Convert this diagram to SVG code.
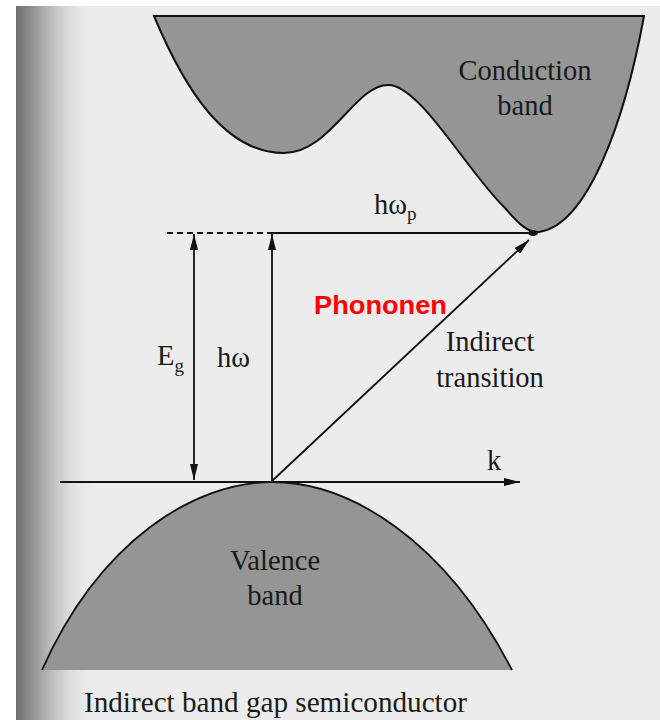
<svg xmlns="http://www.w3.org/2000/svg" width="660" height="720" viewBox="0 0 660 720">
  <style>
    .lbl { font-family: "Liberation Serif", "Times New Roman", serif; fill: #1a1a1a; font-size: 28.5px; }
    .band { fill: #959595; stroke: #111; stroke-width: 2; }
    .ln { stroke: #111; stroke-width: 1.8; fill: none; }
  </style>
  <defs>
    <linearGradient id="edge" x1="0" y1="0" x2="1" y2="0">
      <stop offset="0" stop-color="#6e6e6e"/>
      <stop offset="0.4" stop-color="#b5b5b5"/>
      <stop offset="1" stop-color="#ececec" stop-opacity="0"/>
    </linearGradient>
    <marker id="ah" viewBox="0 0 16 8" refX="16" refY="4" markerWidth="16" markerHeight="8" markerUnits="userSpaceOnUse" orient="auto-start-reverse">
      <path d="M0,0 L16,4 L0,8 Z" fill="#111"/>
    </marker>
  </defs>
  <rect x="0" y="0" width="660" height="720" fill="#ffffff"/>
  <rect x="16" y="6" width="644" height="714" fill="#ececec"/>
  <rect x="16" y="6" width="80" height="714" fill="url(#edge)"/>

  <g id="conduction-band">
    <path class="band" d="M154,16 C 185,90 225,153 284,153 C 330,153 355,85 388,85 C 420,85 466,170 505,208 C 519,224 528,233 539,232 C 588,225 625,120 644,16 Z"/>
    <text class="lbl" x="525" y="80" text-anchor="middle">Conduction</text>
    <text class="lbl" x="525" y="115" text-anchor="middle">band</text>
  </g>

  <g id="valence-band">
    <path d="M42,670 C 100,540 195,482 272,482 C 350,482 445,540 512,670 Z" fill="#959595"/>
    <path class="ln" d="M42,670 C 100,540 195,482 272,482 C 350,482 445,540 512,670" stroke-width="2"/>
    <text class="lbl" x="275" y="570" text-anchor="middle">Valence</text>
    <text class="lbl" x="275" y="605" text-anchor="middle">band</text>
  </g>

  <g id="connectors">
    <line class="ln" x1="60" y1="482" x2="520" y2="482" marker-end="url(#ah)"/>
    <line class="ln" x1="167" y1="233" x2="272" y2="233" stroke-dasharray="6,4"/>
    <line class="ln" x1="272" y1="233" x2="532" y2="233"/>
    <line class="ln" x1="194" y1="234" x2="194" y2="480" marker-start="url(#ah)" marker-end="url(#ah)"/>
    <line class="ln" x1="272" y1="481" x2="272" y2="234" marker-end="url(#ah)"/>
    <line class="ln" x1="272" y1="481" x2="529" y2="240" marker-end="url(#ah)"/>
    <ellipse cx="533" cy="233" rx="5" ry="3" fill="#111"/>
  </g>

  <g id="labels">
    <text class="lbl" x="374" y="214">hω<tspan font-size="19" dy="6">p</tspan></text>
    <text class="lbl" x="157" y="365">E<tspan font-size="19" dy="7">g</tspan></text>
    <text class="lbl" x="217" y="367">hω</text>
    <text class="lbl" x="490" y="351" text-anchor="middle">Indirect</text>
    <text class="lbl" x="490" y="387" text-anchor="middle">transition</text>
    <text class="lbl" x="487" y="470">k</text>
    <text x="314" y="314" font-family="'Liberation Sans', Arial, sans-serif" font-weight="bold" font-size="26.5" fill="#ff0000" textLength="133" lengthAdjust="spacingAndGlyphs">Phononen</text>
    <text class="lbl" x="84" y="712" textLength="383" lengthAdjust="spacingAndGlyphs">Indirect band gap semiconductor</text>
  </g>
</svg>
